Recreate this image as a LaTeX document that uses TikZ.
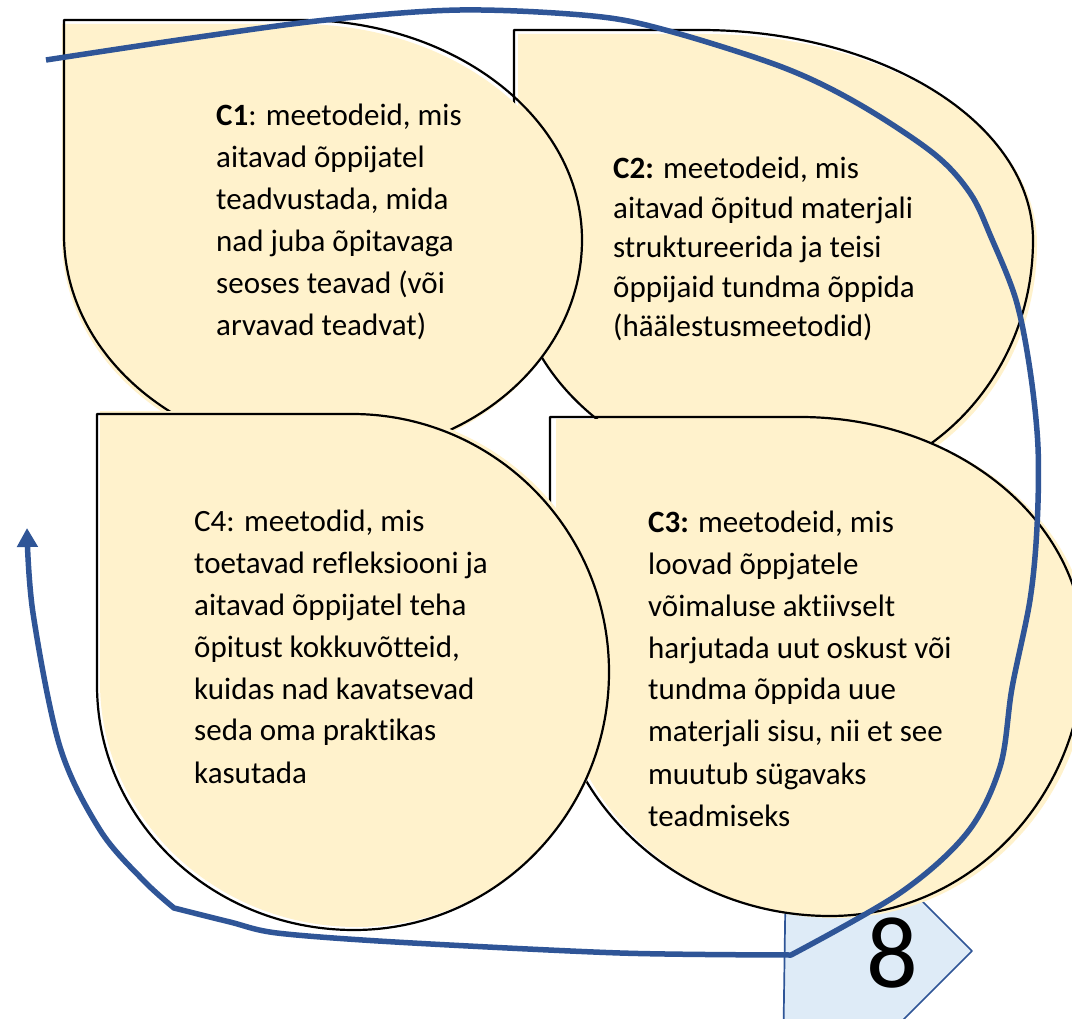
\documentclass[tikz,border=0pt]{standalone}
\usepackage{fontspec}
\setmainfont{Carlito}[Ligatures={TeX,NoCommon}]
\usetikzlibrary{arrows.meta}
\definecolor{leafyellow}{HTML}{FFF2CC}
\definecolor{loopblue}{HTML}{2F5597}
\definecolor{tagblue}{HTML}{DEEBF7}

% Teardrop leaf: sharp corner at (left,top), then three elliptic quadrants.
% #1 left, #2 top, #3 x where the top arc starts, #4 right, #5 y of the right extreme,
% #6 x of the bottom extreme, #7 bottom, #8 y where the left side starts to curve
\newcommand{\leafpath}[8]{(#1,#2) -- (#3,#2)
  arc[start angle=270,end angle=360,x radius=#4-#3,y radius=#5-#2]
  arc[start angle=0,end angle=90,x radius=#4-#6,y radius=#7-#5]
  arc[start angle=90,end angle=180,x radius=#6-#1,y radius=#7-#8] -- cycle}

\newcommand{\leaftext}[1]{\parbox[t]{420pt}{\raggedright #1}}

\begin{document}
\begin{tikzpicture}[x=1pt,y=-1pt,
  leaffill/.style={fill=leafyellow},
  leafline/.style={draw=black,line width=2.2pt,line join=round},
  blocktext/.style={anchor=base west,inner sep=0pt,text=black,font=\fontsize{31}{42}\selectfont},
  loopline/.style={draw=loopblue,line width=5.5pt,line join=round,-{Triangle[length=19pt,width=20pt]}},
  tagshape/.style={fill=tagblue,draw=loopblue,line width=1.7pt,line join=round}]

\useasboundingbox (0,0) rectangle (1072,1019);
\clip (0,0) rectangle (1072,1019);
\fill[white] (0,0) rectangle (1072,1019);

% numbered tag, partly behind the C3 leaf
\path[tagshape] (786,858) -- (879,858) -- (972,951) -- (858,1065) -- (783,1065) -- cycle;

% the four leaves, back to front
\fill[leaffill,shift={(4,4)}] \leafpath{514}{30}{700}{1033}{240}{800}{486}{260};
\draw[leafline] \leafpath{514}{30}{700}{1033}{240}{800}{486}{260};
\fill[leaffill,shift={(6,2)}] \leafpath{550}{417}{800}{1084}{650}{830}{916}{650};
\draw[leafline] \leafpath{550}{417}{800}{1084}{650}{830}{916}{650};
\fill[leaffill,shift={(-2,4)}] \leafpath{64}{20}{300}{582}{240}{330}{456}{235};
\draw[leafline] \leafpath{64}{20}{300}{582}{240}{330}{456}{235};
\fill[leaffill,shift={(3,-3)}] \leafpath{97}{414}{352}{609}{672}{354}{930}{685};
\draw[leafline] \leafpath{97}{414}{352}{609}{672}{354}{930}{685};

% leaf texts
\node[blocktext] (c1) at (216,126) {\leaftext{\textbf{C1}: meetodeid, mis\\aitavad õppijatel\\teadvustada, mida\\nad juba õpitavaga\\seoses teavad (või\\arvavad teadvat)}};
\node[blocktext,font=\fontsize{31}{39.5}\selectfont] (c2) at (613,179) {\leaftext{\textbf{C2:} meetodeid, mis\\aitavad õpitud materjali\\struktureerida ja teisi\\õppijaid tundma õppida\\(häälestusmeetodid)}};
\node[blocktext] (c4) at (194,531) {\leaftext{C4: meetodid, mis\\toetavad refleksiooni ja\\aitavad õppijatel teha\\õpitust kokkuvõtteid,\\kuidas nad kavatsevad\\seda oma praktikas\\kasutada}};
\node[blocktext] (c3) at (648,532) {\leaftext{\textbf{C3:} meetodeid, mis\\loovad õppjatele\\võimaluse aktiivselt\\harjutada uut oskust või\\tundma õppida uue\\materjali sisu, nii et see\\muutub sügavaks\\teadmiseks}};

% tag number
\node[anchor=base,inner sep=0pt,font=\fontsize{102}{110}\selectfont] (num) at (892,987) {8};

% cycle arrow around the leaves
\coordinate (loopstart) at (46,60);
\coordinate (loopturn) at (791,955);
\coordinate (loopknee) at (174,908);
\coordinate (loopend) at (27,528);
\draw[loopline] plot[smooth,tension=0.55] coordinates {(loopstart) (192,38) (326,20) (460,10) (593,16) (669,31) (782,67) (857,103) (933,153) (970,193) (991,237) (1016,300) (1030,370) (1038,447) (1037,527) (1030,600) (1012,688) (1000,767) (967,833) (900,893) (loopturn)}
  -- plot[smooth,tension=0.5] coordinates {(loopturn) (620,953) (395,942) (277,933) (230,922) (loopknee)}
  -- plot[smooth,tension=0.55] coordinates {(loopknee) (143,880) (100,830) (60,747) (33,613) (loopend)};
\end{tikzpicture}
\end{document}
